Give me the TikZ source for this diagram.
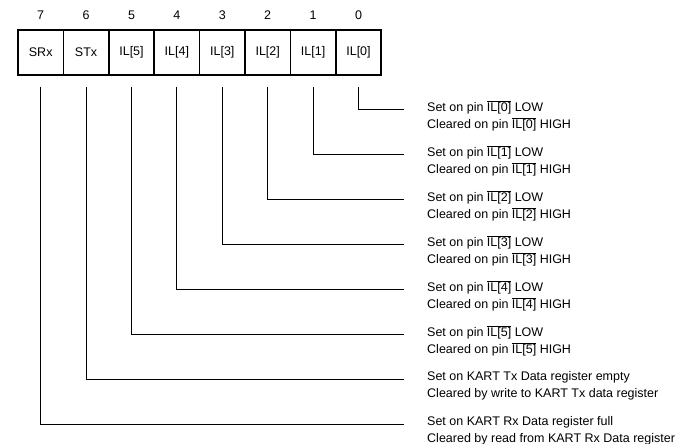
\documentclass[tikz,border=0pt]{standalone}
\usepackage{fontspec}
\setmainfont{Liberation Sans}
\usetikzlibrary{positioning}
\newcommand{\pinbar}[1]{$\overline{\mbox{IL[#1]}}$}

\begin{document}
\begin{tikzpicture}[x=1pt, y=-1pt, font=\fontsize{12.5}{17}\selectfont,
    bitbox/.style={draw, line width=1.5pt, minimum width=45.4pt, minimum height=45pt, inner sep=0pt},
    bitnum/.style={inner sep=0pt},
    note/.style={anchor=west, align=left, inner sep=0pt},
    lead/.style={line width=0.9pt}]
  \useasboundingbox (0,0) rectangle (681,444);
  % ---------------- register bits ----------------
  \foreach \i/\lbl in {7/SRx,6/STx,5/IL[5],4/IL[4],3/IL[3],2/IL[2],1/IL[1],0/IL[0]} {
    \pgfmathsetmacro\bx{40.7+45.4*(7-\i)}
    \node[bitbox] (b\i) at (\bx,52.5) {\lbl};
    \node[bitnum, above=9.5pt of b\i] (n\i) {\i};
  }
  % ---------------- descriptions ----------------
  \node[note] (d0) at (427,116) {Set on pin \pinbar{0} LOW\\ Cleared on pin \pinbar{0} HIGH};
  \node[note] (d1) at (427,161) {Set on pin \pinbar{1} LOW\\ Cleared on pin \pinbar{1} HIGH};
  \node[note] (d2) at (427,206) {Set on pin \pinbar{2} LOW\\ Cleared on pin \pinbar{2} HIGH};
  \node[note] (d3) at (427,251) {Set on pin \pinbar{3} LOW\\ Cleared on pin \pinbar{3} HIGH};
  \node[note] (d4) at (427,296) {Set on pin \pinbar{4} LOW\\ Cleared on pin \pinbar{4} HIGH};
  \node[note] (d5) at (427,341) {Set on pin \pinbar{5} LOW\\ Cleared on pin \pinbar{5} HIGH};
  \node[note] (d6) at (427,386) {Set on KART Tx Data register empty\\ Cleared by write to KART Tx data register};
  \node[note] (d7) at (427,431) {Set on KART Rx Data register full\\ Cleared by read from KART Rx Data register};
  % ---------------- leads from bits to descriptions ----------------
  \foreach \i in {0,...,7} {
    \pgfmathsetmacro\ly{109+45*\i}
    \coordinate (e\i) at (404,\ly);
    \draw[lead] ([yshift=-11pt]b\i.south) |- (e\i);
  }
\end{tikzpicture}
\end{document}
